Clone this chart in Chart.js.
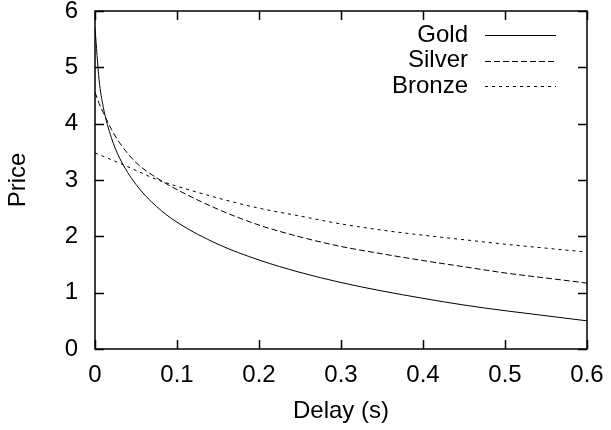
<!DOCTYPE html>
<html>
<head>
<meta charset="utf-8">
<script src="https://cdn.jsdelivr.net/npm/chart.js@4/dist/chart.umd.min.js"></script>
<style>
  html, body { margin: 0; padding: 0; background: #fff; }
  #wrap { width: 611px; height: 430px; }
</style>
</head>
<body>
<div id="wrap"><canvas id="priceChart"></canvas></div>
<script>
// values
const delays = [0, 0.005, 0.01, 0.02, 0.03, 0.05, 0.075, 0.1, 0.15, 0.2, 0.25, 0.3, 0.35, 0.4, 0.45, 0.5, 0.55, 0.6];
const gold   = [5.7, 4.78, 4.3, 3.75, 3.39, 2.92, 2.53, 2.25, 1.86, 1.58, 1.36, 1.18, 1.03, 0.9, 0.78, 0.68, 0.59, 0.5];
const silver = [4.56, 4.36, 4.2, 3.9, 3.66, 3.31, 3.04, 2.83, 2.48, 2.2, 1.99, 1.82, 1.69, 1.57, 1.46, 1.35, 1.26, 1.17];
const bronze = [3.48, 3.45, 3.42, 3.36, 3.3, 3.17, 3.01, 2.89, 2.68, 2.5, 2.36, 2.22, 2.11, 2.02, 1.94, 1.86, 1.79, 1.72];
const seriesNames = ['Gold', 'Silver', 'Bronze'];
const seriesDash = [[], [6, 3], [3, 4]];

const FONT = { family: '"Liberation Sans", Arial, sans-serif', size: 24 };

function toPoints(ys) {
  return delays.map((d, i) => ({ x: d, y: ys[i] }));
}

// gnuplot-like frame: box, inward ticks on every side, legend in the top right
const framePlugin = {
  id: 'frame',
  afterDatasetsDraw(chart) {
    const ctx = chart.ctx;
    const a = chart.chartArea;
    const xs = chart.scales.x, ys = chart.scales.y;
    const tl = 9;
    ctx.save();
    ctx.strokeStyle = '#000';
    ctx.lineWidth = 1.5;
    ctx.setLineDash([]);
    ctx.strokeRect(a.left, a.top, a.right - a.left, a.bottom - a.top);
    ctx.beginPath();
    xs.ticks.forEach(t => {
      const px = Math.round(xs.getPixelForValue(t.value)) + 0.5;
      ctx.moveTo(px, a.bottom); ctx.lineTo(px, a.bottom - tl);
      ctx.moveTo(px, a.top); ctx.lineTo(px, a.top + tl);
    });
    ys.ticks.forEach(t => {
      const py = Math.round(ys.getPixelForValue(t.value)) + 0.5;
      ctx.moveTo(a.left, py); ctx.lineTo(a.left + tl, py);
      ctx.moveTo(a.right, py); ctx.lineTo(a.right - tl, py);
    });
    ctx.stroke();

    // legend
    ctx.font = FONT.size + 'px ' + FONT.family;
    ctx.fillStyle = '#000';
    ctx.textAlign = 'right';
    ctx.textBaseline = 'middle';
    ctx.lineWidth = 1;
    chart.data.datasets.forEach((ds, i) => {
      const y = 35 + i * 25.5;
      ctx.fillText(ds.label, 468, y);
      ctx.setLineDash(ds.borderDash || []);
      ctx.beginPath();
      ctx.moveTo(485, Math.round(y) + 0.5);
      ctx.lineTo(556, Math.round(y) + 0.5);
      ctx.stroke();
    });
    ctx.restore();
  }
};

new Chart(document.getElementById('priceChart'), {
  type: 'line',
  data: {
    datasets: [gold, silver, bronze].map((s, i) => ({
      label: seriesNames[i],
      data: toPoints(s),
      borderColor: '#000',
      borderWidth: 1,
      borderDash: seriesDash[i],
      pointRadius: 0,
      fill: false,
      cubicInterpolationMode: 'monotone'
    }))
  },
  options: {
    responsive: true,
    maintainAspectRatio: false,
    animation: false,
    events: [],
    layout: { padding: { left: 0, right: 24, top: 11, bottom: 0 } },
    plugins: {
      legend: { display: false },
      tooltip: { enabled: false }
    },
    scales: {
      x: {
        type: 'linear',
        min: 0,
        max: 0.6,
        grid: { display: false, drawTicks: false },
        border: { display: false },
        ticks: { stepSize: 0.1, color: '#000', font: FONT, padding: 12, maxRotation: 0 },
        title: { display: true, text: 'Delay (s)', color: '#000', font: FONT, padding: { top: 0, bottom: 4 } },
        afterFit(s) { s.height = 81; s.paddingLeft = 0; s.paddingRight = 0; }
      },
      y: {
        min: 0,
        max: 6,
        grid: { display: false, drawTicks: false },
        border: { display: false },
        ticks: { stepSize: 1, color: '#000', font: FONT, padding: 17 },
        title: { display: true, text: 'Price', color: '#000', font: FONT, padding: { top: 4, bottom: 0 } },
        afterFit(s) { s.width = 95; s.paddingTop = 0; s.paddingBottom = 0; }
      }
    }
  },
  plugins: [framePlugin]
});
</script>
</body>
</html>
